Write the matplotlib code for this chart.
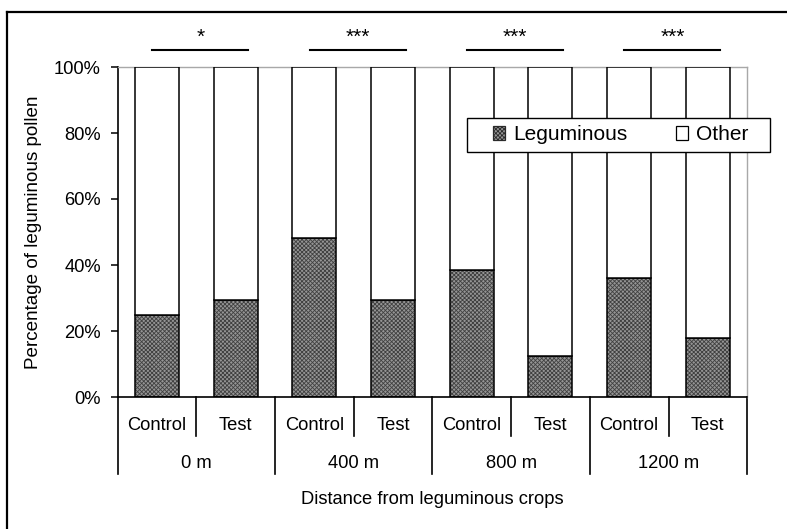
import matplotlib
matplotlib.use("Agg")
import matplotlib.pyplot as plt
from matplotlib.patches import Patch, Rectangle
from matplotlib.lines import Line2D
import numpy as np

plt.rcParams['font.family'] = ['Liberation Sans', 'DejaVu Sans']
plt.rcParams['hatch.linewidth'] = 0.6

# ---- data ----
distances = ["0 m", "400 m", "800 m", "1200 m"]
treatments = ["Control", "Test"]
leguminous_pct = [25, 29.4, 48.3, 29.4, 38.5, 12.3, 36, 18]
significance = ["*", "***", "***", "***"]
y_ticks = [0, 20, 40, 60, 80, 100]
y_tick_labels = ["0%", "20%", "40%", "60%", "80%", "100%"]
series_names = ["Leguminous", "Other"]

other_pct = [100 - v for v in leguminous_pct]
n = len(leguminous_pct)
x = np.arange(n)

W, H = 787, 529
AX_L, AX_R, AX_B, AX_T = 117.6, 747.2, 397, 67
fig = plt.figure(figsize=(W / 100, H / 100), dpi=100)
ax = fig.add_axes([AX_L / W, 1 - AX_B / H, (AX_R - AX_L) / W, (AX_B - AX_T) / H])

def ax_x(px):
    return (px - AX_L) / (AX_R - AX_L)

def ax_y(py):
    return (AX_B - py) / (AX_B - AX_T)

FS = 13.2
bw = 0.56
leg_face = '#959595'
hatch_col = '#404040'
HATCH = 'xxxxxxxx'

# leguminous bars: fill + hatch, then outline
ax.bar(x, leguminous_pct, bw, color=leg_face, edgecolor=hatch_col, hatch=HATCH, linewidth=0, zorder=2)
ax.bar(x, leguminous_pct, bw, fill=False, edgecolor='black', linewidth=1.1, zorder=3)
ax.bar(x, other_pct, bw, bottom=leguminous_pct, color='white', edgecolor='black', linewidth=1.1, zorder=3)

ax.set_xlim(-0.5, n - 0.5)
ax.set_ylim(0, 100)
ax.set_yticks(y_ticks)
ax.set_yticklabels(y_tick_labels, fontsize=FS)
ax.tick_params(axis='y', direction='out', length=5, width=1.1, pad=7)
ax.set_xticks([])
for s in ['top', 'right']:
    ax.spines[s].set_color('#a8a8a8')
    ax.spines[s].set_linewidth(1.0)
for s in ['left', 'bottom']:
    ax.spines[s].set_color('black')
    ax.spines[s].set_linewidth(1.2)

ax.set_ylabel("Percentage of leguminous pollen", fontsize=13.6, labelpad=9)

tr = ax.get_xaxis_transform()
# category labels and separators
for i in range(n):
    ax.text(x[i], ax_y(425), treatments[i % 2], transform=tr, ha='center', va='center', fontsize=FS)
for b in range(n + 1):
    xb = b - 0.5
    y_end = ax_y(474) if b % 2 == 0 else ax_y(436)
    ax.add_line(Line2D([xb, xb], [0, y_end], transform=tr, color='black', lw=1.2, clip_on=False))
for g, name in enumerate(distances):
    ax.text(2 * g + 0.5, ax_y(464), name, transform=tr, ha='center', va='center', fontsize=FS)

ax.text((n - 1) / 2, ax_y(499), "Distance from leguminous crops", transform=tr,
        ha='center', va='center', fontsize=FS)

# significance lines
for g, sig in enumerate(significance):
    c = 2 * g + 0.55
    ax.add_line(Line2D([c - 0.61, c + 0.61], [ax_y(50), ax_y(50)], transform=tr,
                       color='black', lw=1.5, clip_on=False))
    ax.text(c, ax_y(37), sig, transform=tr, ha='center', va='center', fontsize=15)

# legend (frame drawn separately)
ax.add_patch(Rectangle((ax_x(467), ax_y(152)), ax_x(770) - ax_x(467), ax_y(118) - ax_y(152),
                       transform=ax.transAxes, facecolor='white', edgecolor='black',
                       linewidth=1.0, clip_on=False, zorder=5))
handles = [Patch(facecolor=leg_face, edgecolor='#2a2a2a', hatch=HATCH, linewidth=0.9),
           Patch(facecolor='white', edgecolor='black', linewidth=0.9)]
leg = ax.legend(handles, series_names, ncol=2, loc='center left',
                bbox_to_anchor=(ax_x(492.5), ax_y(135)),
                fontsize=15, frameon=False, handlelength=0.62, handleheight=0.62,
                handletextpad=0.38, columnspacing=2.3, borderpad=0, borderaxespad=0)
leg.set_zorder(6)

# outer figure frame (top and left only visible)
fig.add_artist(Line2D([7 / W, 1.0], [1 - 12 / H, 1 - 12 / H], transform=fig.transFigure, color='black', lw=1.6))
fig.add_artist(Line2D([7 / W, 7 / W], [0.0, 1 - 12 / H], transform=fig.transFigure, color='black', lw=1.6))

fig.savefig("out.png", dpi=100)
